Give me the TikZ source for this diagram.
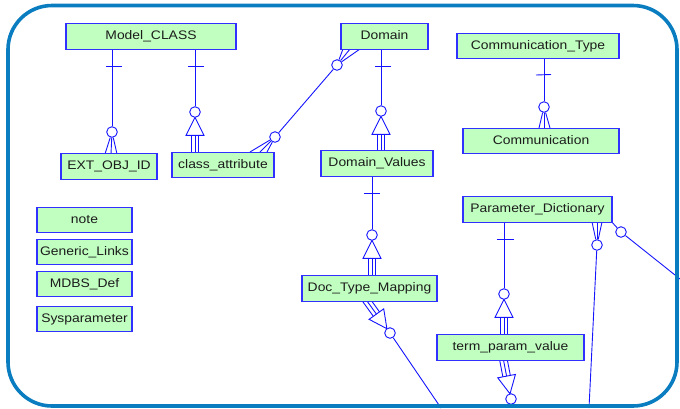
\documentclass[tikz,border=0pt]{standalone}
\usepackage{fontspec}
\newfontfamily\erfont[FakeStretch=1.12]{Liberation Sans}
\usetikzlibrary{calc}
\pgfdeclarelayer{background}
\pgfsetlayers{background,main}
\definecolor{entfill}{RGB}{192,255,192}
\definecolor{entline}{RGB}{48,48,255}
\definecolor{relline}{RGB}{20,20,255}
\definecolor{framecol}{RGB}{10,125,192}
\definecolor{txt}{RGB}{28,28,28}
\tikzset{
  ent/.style={draw=entline, line width=1.1pt, fill=entfill, inner sep=0pt,
    minimum height=25.5pt, text height=9pt, text depth=3pt,
    font=\erfont\fontsize{12.4}{14}\selectfont, text=txt},
  rel/.style={draw=relline, line width=0.9pt},
  ring/.style={circle, draw=relline, line width=0.9pt, fill=white,
    minimum size=10.6pt, inner sep=0pt},
  % subtype mark: origin at ring centre, entity lies towards local +y
  pics/subtype/.style={code={
    \draw[rel] (0,5.3) -- (-9,23.3) -- (9,23.3) -- cycle;
    \foreach \dx in {-3.8,0,3.8} \draw[rel] (\dx,23.3) -- (\dx,{23.3+#1});
  }},
}
\begin{document}
\begin{tikzpicture}[x=1pt,y=-1pt]
\useasboundingbox (0,0) rectangle (680,408);

% entities
\node[ent, minimum width=170pt] (mc)  at (151,36.5)  {Model\_CLASS};
\node[ent, minimum width=87pt]  (dom) at (384.5,36.5) {Domain};
\node[ent, minimum width=162pt] (ct)  at (538,46)    {Communication\_Type};
\node[ent, minimum width=156pt] (com) at (541,141)   {Communication};
\node[ent, minimum width=96pt]  (ext) at (109,166.5) {EXT\_OBJ\_ID};
\node[ent, minimum width=102pt] (ca)  at (223,165)   {class\_attribute};
\node[ent, minimum width=112pt] (dv)  at (377,163.5) {Domain\_Values};
\node[ent, minimum width=95pt]  (nt)  at (84.5,220)  {note};
\node[ent, minimum width=95pt]  (gl)  at (84.5,252)  {Generic\_Links};
\node[ent, minimum width=95pt]  (md)  at (84.5,284)  {MDBS\_Def};
\node[ent, minimum width=95pt]  (sp)  at (84.5,319)  {Sysparameter};
\node[ent, minimum width=135pt] (dtm) at (369.5,288.5) {Doc\_Type\_Mapping};
\node[ent, minimum width=149pt] (pd)  at (537.5,209.5) {Parameter\_Dictionary};
\node[ent, minimum width=147pt] (tpv) at (510.5,347.5) {term\_param\_value};

% optionality rings
\node[ring] (c1)  at (112,132) {};
\node[ring] (c2)  at (195,112) {};
\node[ring] (c3a) at (275,137) {};
\node[ring] (c3b) at (337,65)  {};
\node[ring] (c4)  at (381,111) {};
\node[ring] (c5)  at (544,107) {};
\node[ring] (c6)  at (372,235) {};
\node[ring] (c7)  at (390,333) {};
\node[ring] (c8)  at (504,294) {};
\node[ring] (c9)  at (511,399) {};
\node[ring] (c10) at (597,245) {};
\node[ring] (c11) at (621,232) {};

% loose ends leaving the sheet
\coordinate (e7)  at (441,408);
\coordinate (e9)  at (511,408);
\coordinate (e10) at (589,408);
\coordinate (e11) at (680,279);

\begin{pgfonlayer}{background}
  % Model_CLASS -> EXT_OBJ_ID
  \draw[rel] (mc.south -| c1) -- (c1);
  \draw[rel] (106,66) -- (122,66);
  \foreach \x in {105,111,117} \draw[rel] (c1) -- (\x,154);
  % Model_CLASS -> class_attribute
  \draw[rel] (mc.south -| c2) -- (c2);
  \draw[rel] (188,66) -- (204,66);
  \pic at (c2) {subtype=16.7};
  % Domain -> class_attribute
  \draw[rel] (c3a) -- (c3b);
  \foreach \x in {250,260,267} \draw[rel] (c3a) -- (\x,152);
  \foreach \x in {343,350,360} \draw[rel] (c3b) -- (\x,49);
  % Domain -> Domain_Values
  \draw[rel] (dom.south -| c4) -- (c4);
  \draw[rel] (375,66) -- (391,66);
  \pic at (c4) {subtype=16.7};
  % Communication_Type -> Communication
  \draw[rel] (ct.south -| c5) -- (c5);
  \draw[rel] (536,75) -- (551,74.5);
  \foreach \x in {539,544,550} \draw[rel] (c5) -- (\x,128);
  % Domain_Values -> Doc_Type_Mapping
  \draw[rel] (dv.south -| c6) -- (c6);
  \draw[rel] (364,193) -- (380,193);
  \pic at (c6) {subtype=17.7};
  % Doc_Type_Mapping -> (below)
  \pic[rotate=215.7] at (c7) {subtype=19};
  \draw[rel] (c7) -- (e7);
  % Parameter_Dictionary -> term_param_value
  \draw[rel] (pd.south -| c8) -- (c8);
  \draw[rel] (497,239) -- (514,239);
  \pic at (c8) {subtype=17.7};
  % term_param_value -> (below)
  \pic[rotate=190.9] at (c9) {subtype=18.5};
  \draw[rel] (c9) -- (e9);
  % Parameter_Dictionary -> (below)
  \foreach \x in {592,597,602} \draw[rel] (c10) -- (\x,222);
  \draw[rel] (c10) -- (e10);
  % Parameter_Dictionary -> (right)
  \draw[rel] (pd.south east) -- (c11);
  \draw[rel] (c11) -- (e11);
\end{pgfonlayer}

% sheet border
\draw[framecol, line width=3.6pt, rounded corners=44pt] (8,5.5) rectangle (677,406);
\end{tikzpicture}
\end{document}
